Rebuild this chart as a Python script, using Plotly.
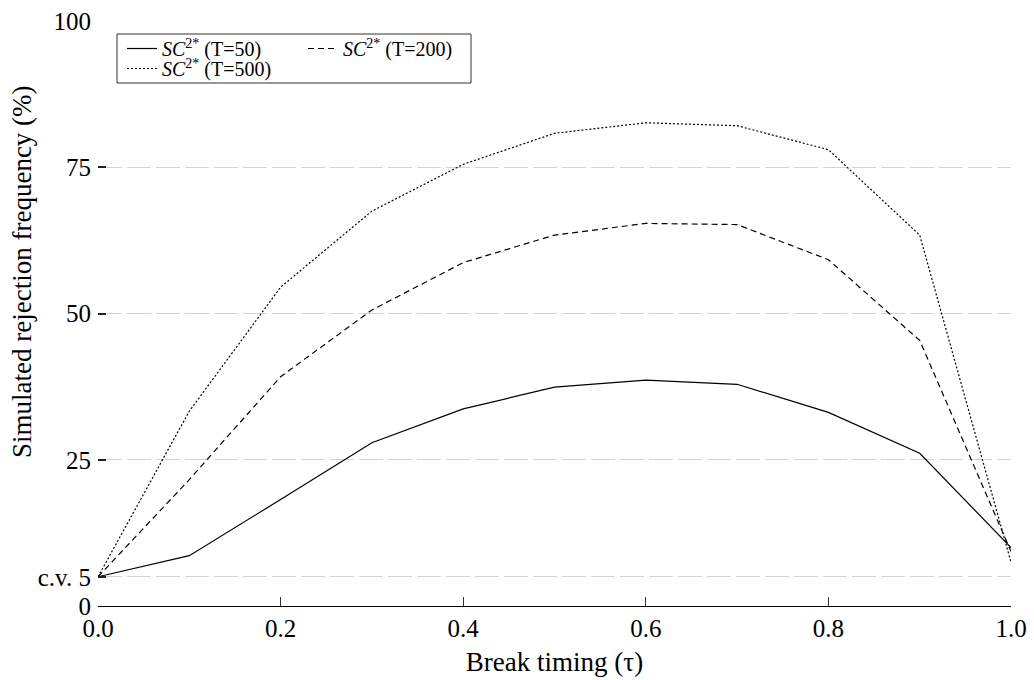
import plotly.graph_objects as go

tau = [0.0, 0.1, 0.2, 0.3, 0.4, 0.5, 0.6, 0.7, 0.8, 0.9, 1.0]
t50 = [5.0, 8.6, 18.2, 27.9, 33.7, 37.4, 38.6, 37.9, 33.1, 26.1, 10.0]
t200 = [5.0, 21.6, 39.2, 50.6, 58.7, 63.4, 65.4, 65.2, 59.2, 45.4, 9.3]
t500 = [5.0, 33.3, 54.5, 67.5, 75.5, 80.8, 82.6, 82.1, 78.0, 63.4, 7.5]

names = ["<i>SC</i><sup>2*</sup> (T=50)", "<i>SC</i><sup>2*</sup> (T=200)", "<i>SC</i><sup>2*</sup> (T=500)"]
ytickvals = [0, 5, 25, 50, 75, 100]
yticktext = ["0", "c.v. 5", "25", "50", "75", "100"]
xtickvals = [0.0, 0.2, 0.4, 0.6, 0.8, 1.0]
xticktext = ["0.0", "0.2", "0.4", "0.6", "0.8", "1.0"]

FONT = "Liberation Serif"

fig = go.Figure()
fig.add_trace(go.Scatter(x=tau, y=t50, mode="lines", name=names[0],
                         line=dict(color="black", width=1.2, dash="solid"), legend="legend"))
fig.add_trace(go.Scatter(x=tau, y=t200, mode="lines", name=names[1],
                         line=dict(color="black", width=1.2, dash="6px,4px"), legend="legend"))
fig.add_trace(go.Scatter(x=tau, y=t500, mode="lines", name=names[2],
                         line=dict(color="black", width=1.2, dash="2px,2px"), legend="legend2"))

L, R, T, B = 98, 23, 21, 74
W, H = 1034, 680
pw, ph = W - L - R, H - T - B

def px2paper_x(px):
    return (px - L) / pw

def px2paper_y(py):
    return (H - B - py) / ph

fig.update_layout(
    width=W, height=H,
    margin=dict(l=L, r=R, t=T, b=B, autoexpand=False),
    paper_bgcolor="white", plot_bgcolor="white",
    font=dict(family=FONT, size=24, color="black"),
    showlegend=True,
    legend=dict(orientation="h", x=px2paper_x(122), y=px2paper_y(29), xanchor="left", yanchor="top",
                bgcolor="rgba(0,0,0,0)", borderwidth=0, entrywidth=136, entrywidthmode="pixels",
                font=dict(family=FONT, size=20), itemwidth=30),
    legend2=dict(orientation="h", x=px2paper_x(122), y=px2paper_y(49), xanchor="left", yanchor="top",
                 bgcolor="rgba(0,0,0,0)", borderwidth=0,
                 font=dict(family=FONT, size=20), itemwidth=30),
    xaxis=dict(range=[0, 1], tickvals=xtickvals, ticktext=xticktext, showgrid=False, zeroline=False,
               showline=True, linecolor="black", linewidth=1.3, ticks="inside", ticklen=9,
               tickcolor="#333", tickwidth=1, tickfont=dict(family=FONT, size=25), automargin=False,
               title=dict(text="Break timing (τ)", font=dict(family=FONT, size=27), standoff=10)),
    yaxis=dict(range=[0, 100], tickvals=ytickvals, ticktext=yticktext, showgrid=True,
               gridcolor="#d4d4d4", gridwidth=1.4, griddash="24px,5px", zeroline=False,
               showline=False, ticks="inside", ticklen=8, tickcolor="#222", tickwidth=1.5,
               tickfont=dict(family=FONT, size=25), ticklabelstandoff=6, automargin=False),
    shapes=[dict(type="rect", xref="paper", yref="paper",
                 x0=px2paper_x(117), x1=px2paper_x(471), y0=px2paper_y(83), y1=px2paper_y(34),
                 line=dict(color="#333", width=1), fillcolor="rgba(0,0,0,0)", layer="below")],
    annotations=[dict(text="Simulated rejection frequency (%)", xref="paper", yref="paper",
                      x=0, xshift=-76, y=px2paper_y(272), textangle=-90, showarrow=False,
                      xanchor="center", yanchor="middle", font=dict(family=FONT, size=27))],
)

fig.write_html("out.html")
